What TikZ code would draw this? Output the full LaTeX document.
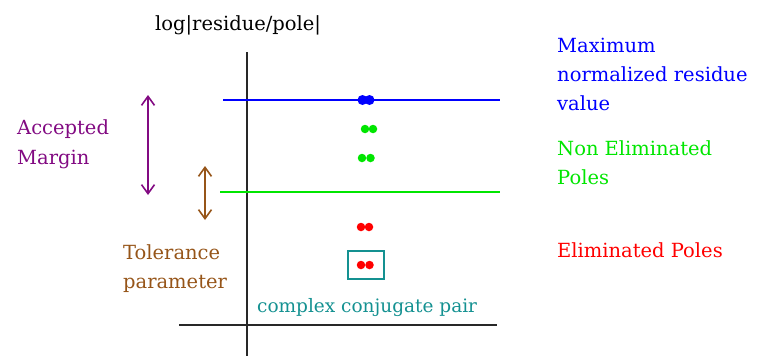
\documentclass[tikz,border=0pt]{standalone}
\usepackage{fontspec}
\setmainfont{DejaVu Serif}
\usetikzlibrary{arrows.meta}
\definecolor{cblue}{RGB}{0,0,255}
\definecolor{cgreen}{RGB}{0,230,0}
\definecolor{cred}{RGB}{255,0,0}
\definecolor{cpurple}{RGB}{130,10,130}
\definecolor{cbrown}{RGB}{150,85,25}
\definecolor{cteal}{RGB}{20,145,145}
\definecolor{caxis}{RGB}{40,40,40}
\tikzset{
  lbl/.style={anchor=base west,inner sep=0pt,font=\fontsize{19.5}{24}\selectfont},
  dotp/.style={circle,fill,inner sep=0pt,minimum size=#1},
  axis/.style={draw=caxis,line width=2.2pt},
  lvl/.style={line width=2.2pt},
  marg/.style={line width=1.8pt,{Straight Barb[length=9pt,width=13pt,line width=1.6pt]}-{Straight Barb[length=9pt,width=13pt,line width=1.6pt]}}
}
\begin{document}
\begin{tikzpicture}[x=1pt,y=-1pt]
\useasboundingbox (0,0) rectangle (758,356);
% axes
\coordinate (vt) at (247,52);
\coordinate (vb) at (247,356);
\coordinate (hl) at (179,325);
\coordinate (hr) at (497,325);
\draw[axis] (vt) -- (vb);
\draw[axis] (hl) -- (hr);
% levels
\coordinate (bl) at (223,100);
\coordinate (br) at (500,100);
\coordinate (gl) at (220,192);
\coordinate (gr) at (500,192);
\draw[lvl,cblue] (bl) -- (br);
\draw[lvl,cgreen] (gl) -- (gr);
% dots
\node[dotp=10pt,cblue] (b1) at (362.5,100) {};
\node[dotp=10pt,cblue] (b2) at (369.5,100) {};
\node[dotp=8.5pt,cgreen] (g1) at (365,129) {};
\node[dotp=8.5pt,cgreen] (g2) at (373,129) {};
\node[dotp=8.5pt,cgreen] (g3) at (362,158) {};
\node[dotp=8.5pt,cgreen] (g4) at (370.5,158) {};
\node[dotp=8.5pt,cred] (r1) at (361,227) {};
\node[dotp=8.5pt,cred] (r2) at (369,227) {};
\node[dotp=8.5pt,cred] (r3) at (361,265) {};
\node[dotp=8.5pt,cred] (r4) at (369.5,265) {};
\node[draw=cteal,line width=2pt,minimum width=36pt,minimum height=28pt,inner sep=0pt] (box) at (365.5,265) {};
% margin arrows
\coordinate (pt) at (148,95);
\coordinate (pb) at (148,195);
\coordinate (tt) at (205,166);
\coordinate (tb) at (205,220);
\draw[marg,cpurple] (pt) -- (pb);
\draw[marg,cbrown] (tt) -- (tb);
% texts
\node[lbl] (title) at (155,30) {log|residue/pole|};
\node[lbl,cblue] (m1) at (557,52) {Maximum};
\node[lbl,cblue] (m2) at (557,81) {normalized residue};
\node[lbl,cblue] (m3) at (557,110) {value};
\node[lbl,cgreen] (n1) at (557,155) {Non Eliminated};
\node[lbl,cgreen] (n2) at (557,184) {Poles};
\node[lbl,cred] (e1) at (557,257) {Eliminated Poles};
\node[lbl,cpurple] (a1) at (17,134) {Accepted};
\node[lbl,cpurple] (a2) at (17,164) {Margin};
\node[lbl,cbrown] (t1) at (123,259) {Tolerance};
\node[lbl,cbrown] (t2) at (123,288) {parameter};
\node[lbl,cteal,font=\fontsize{18.5}{22}\selectfont] (cc) at (257,312) {complex conjugate pair};
\end{tikzpicture}
\end{document}
